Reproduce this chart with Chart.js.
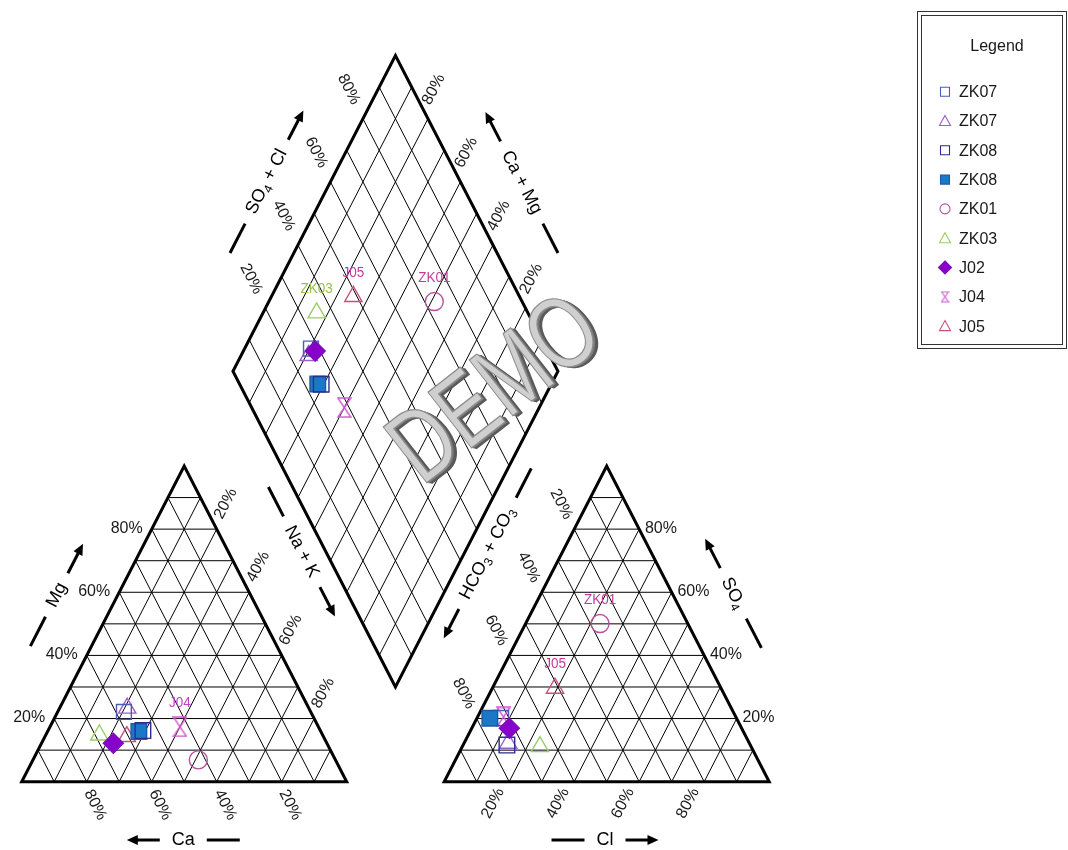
<!DOCTYPE html>
<html>
<head>
<meta charset="utf-8">
<title>Piper diagram</title>
<script src="https://cdn.jsdelivr.net/npm/chart.js@4.4.1/dist/chart.umd.min.js"></script>
<style>
  html, body { margin: 0; padding: 0; background: #ffffff; }
  #wrap { width: 1068px; height: 850px; position: relative; }
</style>
</head>
<body>
<div id="wrap"><canvas id="piper" width="1068" height="850"></canvas></div>
<script>
// ---- sample data (meq %) ----
const sampleNames = ['ZK07', 'ZK07', 'ZK08', 'ZK08', 'ZK01', 'ZK03', 'J02', 'J04', 'J05'];
const caPct   = [57.5, 55.9, 54.6, 56.0, 42.2, 68.7, 65.7, 42.6, 60.5];
const mgPct   = [22.1, 23.3, 16.2, 15.9,  6.9, 14.8, 12.2, 17.4, 14.3];
const naKPct  = [20.4, 20.8, 29.2, 28.1, 50.9, 16.5, 22.1, 40.0, 25.2];
const hco3Pct = [72.4, 74.2, 74.9, 75.9, 27.0, 65.0, 71.5, 71.5, 51.1];
const so4Pct  = [20.2, 12.2, 11.6, 20.1, 50.1, 11.1, 16.9, 20.5, 29.6];
const clPct   = [ 7.4, 13.6, 13.5,  4.0, 22.9, 23.9, 11.6,  8.0, 19.3];
const tickPct = [20, 40, 60, 80];

// which panels carry a sample name: 0 cation triangle, 1 anion triangle, 2 diamond
const namePanels = [[], [], [], [], [1, 2], [2], [], [0], [1, 2]];

// ---- marker appearance ----
const markerStyles = [
  { shape: 'rect',      color: '#4d5cb4', fill: null,      r: 10.5, z: 3 },
  { shape: 'triangle',  color: '#9a5fd0', fill: null,      r: 10,   z: 4 },
  { shape: 'rect',      color: '#2e2e8a', fill: null,      r: 11,   z: 1 },
  { shape: 'rect',      color: '#1d5aa6', fill: '#1a78c6', r: 11,   z: 2 },
  { shape: 'circle',    color: '#b4549e', fill: null,      r: 9,    z: 6 },
  { shape: 'triangle',  color: '#9ccc68', fill: null,      r: 10,   z: 7 },
  { shape: 'rectRot',   color: '#7a0fb8', fill: '#8800cc', r: 10,   z: 0 },
  { shape: 'hourglass', color: '#cf5acf', fill: null,      r: 9,    z: 5 },
  { shape: 'triangle',  color: '#c8507e', fill: null,      r: 10,   z: 8 }
];
const nameColors = ['#4d5cb4', '#9a5fd0', '#2e2e8a', '#1a78c6', '#c03c9c', '#94c24a', '#8800cc', '#c040c8', '#c8369a'];

// ---- Piper geometry (triangle side = 100, heights in % of triangle height) ----
const GAP = 30;                 // distance between the two triangles
const G = 100 + GAP;            // left vertex of the anion triangle
const BX = 100 + GAP / 2;       // bottom vertex of the diamond

function cationPos(i) { return { x: naKPct[i] + mgPct[i] / 2, y: mgPct[i] }; }
function anionPos(i)  { return { x: G + clPct[i] + so4Pct[i] / 2, y: so4Pct[i] }; }
function diamondPos(i) {
  const cm = caPct[i] + mgPct[i];
  const sc = so4Pct[i] + clPct[i];
  return { x: BX + (sc - cm) / 2, y: GAP + sc + cm };
}

function makeHourglass(color, w, h, lw) {
  const c = document.createElement('canvas');
  c.width = w; c.height = h;
  const g = c.getContext('2d');
  g.strokeStyle = color; g.lineWidth = lw;
  g.beginPath();
  g.moveTo(1, 1); g.lineTo(w - 1, 1); g.lineTo(1, h - 1); g.lineTo(w - 1, h - 1); g.closePath();
  g.stroke();
  return c;
}
const hourglassBig = makeHourglass('#cf5acf', 15, 21, 1.5);
const hourglassSmall = makeHourglass('#cf5acf', 9, 12, 1.1);

// ---- text helpers ----
const FONT = '"Liberation Sans", Arial, sans-serif';
function richWidth(ctx, parts, size) {
  let w = 0;
  parts.forEach(p => { ctx.font = (p[1] ? size * 0.68 : size) + 'px ' + FONT; w += ctx.measureText(p[0]).width; });
  return w;
}
function drawRich(ctx, parts, size, x0) {
  let x = x0;
  ctx.textBaseline = 'middle';
  ctx.textAlign = 'left';
  parts.forEach(p => {
    ctx.font = (p[1] ? size * 0.68 : size) + 'px ' + FONT;
    ctx.fillText(p[0], x, p[1] ? size * 0.3 : 0);
    x += ctx.measureText(p[0]).width;
  });
}
function arrowLine(ctx, from, to) {
  const dir = Math.sign(to - from);
  const head = 11;
  ctx.beginPath(); ctx.moveTo(from, 0); ctx.lineTo(to - dir * head * 0.6, 0); ctx.stroke();
  ctx.beginPath(); ctx.moveTo(to, 0); ctx.lineTo(to - dir * head, -5); ctx.lineTo(to - dir * head, 5); ctx.closePath(); ctx.fill();
}

// axis titles: anchor in plot units, rotation sign, where the arrow goes
const axisTitles = [
  { parts: [['Mg']],                                   at: [10.77, 59.14],  rot: -1, arrow: 'end' },
  { parts: [['Ca']],                                   at: [49.72, -18.47], rot: 0,  arrow: 'start' },
  { parts: [['Na + K']],                               at: [86.15, 72.85],  rot: 1,  arrow: 'end' },
  { parts: [['Cl']],                                   at: [179.48, -18.47], rot: 0, arrow: 'end' },
  { parts: [['SO'], ['4', true]],                      at: [218.95, 59.67], rot: 1,  arrow: 'start' },
  { parts: [['HCO'], ['3', true], [' + CO'], ['3', true]], at: [143.33, 72.33], rot: -1, arrow: 'start' },
  { parts: [['SO'], ['4', true], [' + Cl']],           at: [75.38, 190.06], rot: -1, arrow: 'end' },
  { parts: [['Ca + Mg']],                              at: [153.85, 189.8], rot: 1,  arrow: 'start' }
];

// ---- drawing of the frame, grids, tick labels and titles ----
const piperFrame = {
  id: 'piperFrame',
  beforeDatasetsDraw(chart) {
    const ctx = chart.ctx;
    const xs = chart.scales.x, ys = chart.scales.y;
    const P = (u, v) => ({ x: xs.getPixelForValue(u), y: ys.getPixelForValue(v) });
    const seg = (a, b) => { const p = P(a[0], a[1]), q = P(b[0], b[1]); ctx.moveTo(p.x, p.y); ctx.lineTo(q.x, q.y); };
    const poly = (pts) => { ctx.beginPath(); pts.forEach((a, k) => { const p = P(a[0], a[1]); k ? ctx.lineTo(p.x, p.y) : ctx.moveTo(p.x, p.y); }); ctx.closePath(); ctx.stroke(); };

    ctx.save();
    ctx.strokeStyle = '#000';
    ctx.lineWidth = 1;
    ctx.beginPath();
    for (let k = 1; k < 10; k++) {
      const t = 10 * k;
      [0, G].forEach(o => {
        seg([o + t / 2, t], [o + 100 - t / 2, t]);               // horizontal
        seg([o + 100 - t, 0], [o + (100 - t) / 2, 100 - t]);     // parallel to right side
        seg([o + t, 0], [o + t + (100 - t) / 2, 100 - t]);       // parallel to left side
      });
      // diamond: lines of constant (Ca+Mg) and constant (SO4+Cl)
      seg([BX - t / 2, GAP + t], [BX - t / 2 + 50, GAP + t + 100]);
      seg([BX + t / 2, GAP + t], [BX + t / 2 - 50, GAP + t + 100]);
    }
    ctx.stroke();

    ctx.lineWidth = 3;
    ctx.lineJoin = 'miter';
    poly([[0, 0], [100, 0], [50, 100]]);
    poly([[G, 0], [G + 100, 0], [G + 50, 100]]);
    poly([[BX, GAP], [BX - 50, GAP + 100], [BX, GAP + 200], [BX + 50, GAP + 100]]);

    // angle of the sloping sides in screen space
    const p0 = P(0, 0), p1 = P(50, 100);
    const A = Math.atan2(p0.y - p1.y, p1.x - p0.x);   // ~ 63 degrees

    // percentage ticks
    ctx.fillStyle = '#1a1a1a';
    ctx.font = '16px ' + FONT;
    ctx.textAlign = 'center';
    ctx.textBaseline = 'middle';
    const tickGroups = [
      { pos: p => [p / 2, p],                          off: [-25, -0.5],  ang: 0 },   // Mg
      { pos: p => [p + (100 - p) / 2, 100 - p],       off: [9, -25.5],   ang: -A },  // Na + K
      { pos: p => [100 - p, 0],                        off: [8.5, 23.3],  ang: A },   // Ca
      { pos: p => [G + (100 - p) / 2, 100 - p],       off: [-13, -25],   ang: A },   // HCO3
      { pos: p => [G + (100 - p) + p / 2, p],         off: [21.7, -0.7], ang: 0 },   // SO4
      { pos: p => [G + p, 0],                          off: [-16.2, 21.5], ang: -A }, // Cl
      { pos: p => [BX - 50 + p / 2, GAP + 100 + p],   off: [-14.3, -29.3], ang: A }, // SO4 + Cl
      { pos: p => [BX + 50 - p / 2, GAP + 100 + p],   off: [5.8, -29.3], ang: -A }   // Ca + Mg
    ];
    tickGroups.forEach(gp => {
      tickPct.forEach(p => {
        const a = gp.pos(p);
        const q = P(a[0], a[1]);
        ctx.save();
        ctx.translate(q.x + gp.off[0], q.y + gp.off[1]);
        ctx.rotate(gp.ang);
        ctx.fillText(p + '%', 0, 0);
        ctx.restore();
      });
    });

    // axis titles with dash and arrow
    const size = 18, gap = 12, len = 33;
    ctx.fillStyle = '#000';
    ctx.strokeStyle = '#000';
    axisTitles.forEach(t => {
      const c = P(t.at[0], t.at[1]);
      const w = richWidth(ctx, t.parts, size);
      ctx.save();
      ctx.translate(c.x, c.y);
      ctx.rotate(t.rot * A);
      ctx.lineWidth = 3;
      const L = -w / 2 - gap, R = w / 2 + gap;
      if (t.arrow === 'end') {
        ctx.beginPath(); ctx.moveTo(L - len, 0); ctx.lineTo(L, 0); ctx.stroke();
        arrowLine(ctx, R, R + len);
      } else {
        arrowLine(ctx, L, L - len);
        ctx.beginPath(); ctx.moveTo(R, 0); ctx.lineTo(R + len, 0); ctx.stroke();
      }
      drawRich(ctx, t.parts, size, -w / 2);
      ctx.restore();
    });
    ctx.restore();
  }
};

// ---- sample names, watermark and legend ----
function legendMarker(ctx, s, x, y) {
  ctx.save();
  ctx.lineWidth = 1.1;
  ctx.strokeStyle = s.color;
  ctx.fillStyle = s.fill || 'rgba(0,0,0,0)';
  ctx.beginPath();
  if (s.shape === 'rect') { ctx.rect(x - 4.5, y - 4.5, 9, 9); }
  else if (s.shape === 'triangle') { ctx.moveTo(x, y - 5.5); ctx.lineTo(x + 5.5, y + 4.5); ctx.lineTo(x - 5.5, y + 4.5); ctx.closePath(); }
  else if (s.shape === 'circle') { ctx.arc(x, y, 5, 0, Math.PI * 2); }
  else if (s.shape === 'rectRot') { ctx.moveTo(x, y - 6.5); ctx.lineTo(x + 6.5, y); ctx.lineTo(x, y + 6.5); ctx.lineTo(x - 6.5, y); ctx.closePath(); }
  if (s.shape === 'hourglass') {
    ctx.drawImage(hourglassSmall, x - hourglassSmall.width / 2, y - hourglassSmall.height / 2);
  } else {
    if (s.fill) ctx.fill();
    ctx.stroke();
  }
  ctx.restore();
}

const piperOverlay = {
  id: 'piperOverlay',
  afterDatasetsDraw(chart) {
    const ctx = chart.ctx;
    ctx.save();
    // sample names above their markers
    ctx.font = '15px ' + FONT;
    ctx.textAlign = 'center';
    ctx.textBaseline = 'middle';
    chart.data.datasets.forEach((ds, i) => {
      const meta = chart.getDatasetMeta(i);
      namePanels[i].forEach(k => {
        const el = meta.data[k];
        ctx.save();
        ctx.translate(el.x, el.y - 24);
        ctx.scale(0.9, 1);
        ctx.fillStyle = nameColors[i];
        ctx.fillText(sampleNames[i], 0, 0);
        ctx.restore();
      });
    });

    // DEMO watermark
    ctx.save();
    ctx.translate(497, 392);
    ctx.rotate(-38 * Math.PI / 180);
    ctx.scale(0.8, 1.05);
    ctx.font = '98px ' + FONT;
    ctx.textAlign = 'center';
    ctx.textBaseline = 'middle';
    for (let s = 5; s >= 1; s--) {
      ctx.fillStyle = s > 2 ? '#5a5a5a' : '#7a7a7a';
      ctx.fillText('DEMO', s * 0.8, s * 0.8);
    }
    ctx.fillStyle = '#cfcfcf';
    ctx.fillText('DEMO', 0, 0);
    ctx.lineWidth = 1.2;
    ctx.strokeStyle = '#8c8c8c';
    ctx.strokeText('DEMO', 0, 0);
    ctx.restore();

    // legend box
    ctx.strokeStyle = '#333';
    ctx.lineWidth = 1;
    ctx.strokeRect(917.5, 11.5, 149, 337);
    ctx.strokeRect(921.5, 15.5, 141, 329);
    ctx.fillStyle = '#1a1a1a';
    ctx.font = '16px ' + FONT;
    ctx.textAlign = 'center';
    ctx.textBaseline = 'middle';
    ctx.fillText('Legend', 997, 47);
    ctx.textAlign = 'left';
    sampleNames.forEach((name, i) => {
      const y = 91.7 + i * 29.3;
      legendMarker(ctx, markerStyles[i], 945, y);
      ctx.fillStyle = '#1a1a1a';
      ctx.fillText(name, 959, y + 1);
    });
    ctx.restore();
  }
};

// ---- plot units mapped onto the whole canvas ----
const PX_PER_U = 3.25, PX_PER_V = 3.157, ORIGIN_X = 21.7, ORIGIN_Y = 781.7;
const W = 1068, H = 850;

new Chart(document.getElementById('piper'), {
  type: 'scatter',
  data: {
    datasets: sampleNames.map((name, i) => {
      const s = markerStyles[i];
      return {
        label: name,
        data: [cationPos(i), anionPos(i), diamondPos(i)],
        pointStyle: s.shape === 'hourglass' ? hourglassBig : s.shape,
        pointRadius: s.r,
        pointHoverRadius: s.r,
        borderColor: s.color,
        backgroundColor: s.fill || 'rgba(0,0,0,0)',
        pointBorderWidth: 1.4,
        showLine: false,
        order: s.z
      };
    })
  },
  options: {
    responsive: false,
    animation: false,
    events: [],
    layout: { padding: 0, autoPadding: false },
    plugins: { legend: { display: false }, tooltip: { enabled: false } },
    scales: {
      x: { type: 'linear', display: false, min: -ORIGIN_X / PX_PER_U, max: (W - ORIGIN_X) / PX_PER_U },
      y: { type: 'linear', display: false, min: (ORIGIN_Y - H) / PX_PER_V, max: ORIGIN_Y / PX_PER_V }
    }
  },
  plugins: [piperFrame, piperOverlay]
});
</script>
</body>
</html>
